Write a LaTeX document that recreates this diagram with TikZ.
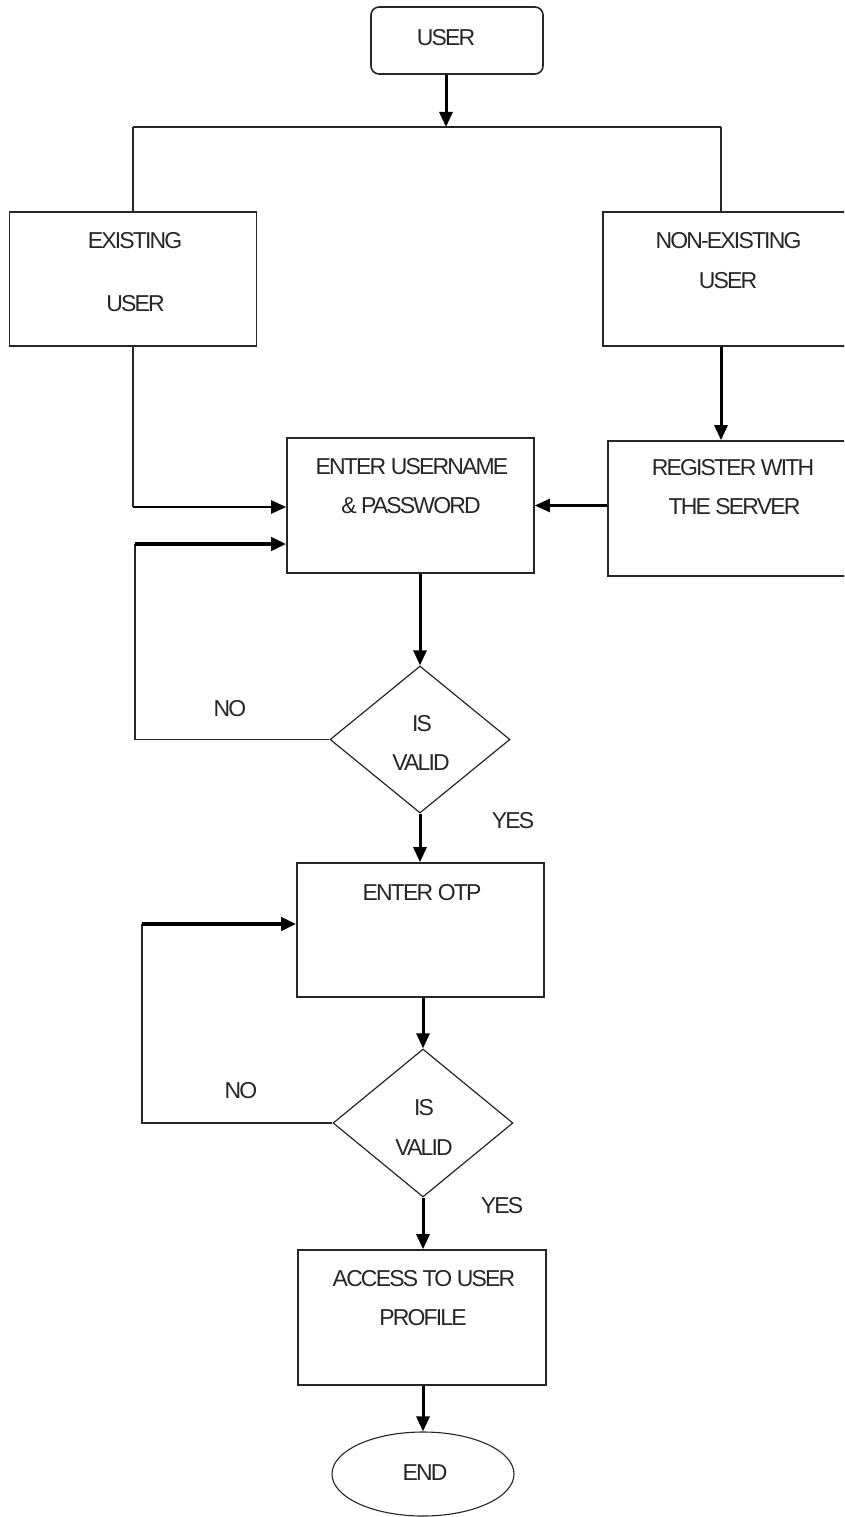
\documentclass[tikz,border=0pt]{standalone}
\usepackage{fontspec}
\setmainfont{Liberation Sans}[LetterSpace=-8]
\usetikzlibrary{arrows.meta,shapes.geometric}

\tikzset{
  box/.style={draw=black!85, line width=1.6pt, minimum width=247pt,
    minimum height=134pt, inner sep=0pt},
  startbox/.style={box, rounded corners=8pt, minimum width=172pt, minimum height=67pt},
  decision/.style={diamond, draw=black!85, line width=1.2pt, minimum width=180pt,
    minimum height=147pt, inner sep=0pt},
  terminal/.style={ellipse, draw=black!85, line width=1.1pt, minimum width=182pt,
    minimum height=84pt, inner sep=0pt},
  txt/.style={text=black!85, font=\fontsize{23}{26}\selectfont, text height=16.5pt,
    text depth=0pt, inner sep=0pt},
  thinline/.style={draw=black!85, line width=1.5pt},
  flow/.style={draw=black, line width=3pt, -{Triangle[length=15pt,width=13pt]}},
  flowmid/.style={flow, line width=2.4pt},
  flowheavy/.style={flow, line width=4pt},
}

\begin{document}
\begin{tikzpicture}[x=1pt, y=-1pt]
  \useasboundingbox (0,0) rectangle (844,1517);
  \clip (0,0) rectangle (844,1517);
  \fill[white] (0,0) rectangle (844,1517);

  % boxes
  \node[startbox] (user)     at (457,40.5)   {};
  \node[box]      (existing) at (133,279)    {};
  \node[box]      (nonex)    at (726.5,279)  {};
  \node[box, minimum height=135pt] (register) at (731.5,508.5) {};
  \node[box, minimum height=135pt] (enter)    at (410.5,505.5) {};
  \node[decision] (valid1)   at (420,739.5)  {};
  \node[box]      (otp)      at (420.5,930)  {};
  \node[decision, minimum height=148pt] (valid2) at (423,1123) {};
  \node[box, minimum width=248pt, minimum height=135pt] (access) at (422,1317.5) {};
  \node[terminal] (finish)   at (423,1474)   {};

  % texts
  \node[txt] (t-user)   at (446,37)    {USER};
  \node[txt] (t-ex1)    at (135,240)   {EXISTING};
  \node[txt] (t-ex2)    at (135.5,303) {USER};
  \node[txt] (t-ne1)    at (728.5,240) {NON-EXISTING};
  \node[txt] (t-ne2)    at (728,280)   {USER};
  \node[txt] (t-en1)    at (412,466)   {ENTER USERNAME};
  \node[txt] (t-en2)    at (411,505)   {\& PASSWORD};
  \node[txt] (t-rg1)    at (733,467.5) {REGISTER WITH};
  \node[txt] (t-rg2)    at (734.5,506) {THE SERVER};
  \node[txt] (t-is1)    at (422,723)   {IS};
  \node[txt] (t-va1)    at (421,762)   {VALID};
  \node[txt] (t-no1)    at (230,708)   {NO};
  \node[txt] (t-yes1)   at (513,820)   {YES};
  \node[txt] (t-otp)    at (422,892)   {ENTER OTP};
  \node[txt] (t-is2)    at (424,1107)  {IS};
  \node[txt] (t-va2)    at (424,1147)  {VALID};
  \node[txt] (t-no2)    at (241,1090)  {NO};
  \node[txt] (t-yes2)   at (502,1205)  {YES};
  \node[txt] (t-ac1)    at (424,1278)  {ACCESS TO USER};
  \node[txt] (t-ac2)    at (423,1317)  {PROFILE};
  \node[txt] (t-end)    at (425,1472)  {END};

  % junction points
  \coordinate (split) at (446,127);
  \coordinate (jl) at (133,127);
  \coordinate (jr) at (721,127);
  \coordinate (loop1) at (135,544);
  \coordinate (loop2) at (142,924);

  % user splits into the two branches
  \draw[flow] (split |- user.south) -- (split);
  \draw[thinline] (jl) -- (jr);
  \draw[thinline] (jl) -- (jl |- existing.north);
  \draw[thinline] (jr) -- (jr |- nonex.north);

  % branches to login
  \draw[flow] (jr |- nonex.south) -- (jr |- register.north);
  \draw[flowmid] (register.west |- enter.east) -- (enter.east);
  \draw[thinline] (jl |- existing.south) -- (133,507);
  \draw[flowmid] (133,507) -- (enter.west |- 0,507);

  % credential check
  \draw[flow] (valid1.north |- enter.south) -- (valid1.north);
  \draw[thinline] (valid1.west) -| (loop1);
  \draw[flowheavy] (loop1) -- (loop1 -| enter.west);
  \draw[flow] (valid1.south) -- (valid1.south |- otp.north);

  % OTP check
  \draw[flow] (valid2.north |- otp.south) -- (valid2.north);
  \draw[thinline] (valid2.west) -| (loop2);
  \draw[flowheavy] (loop2) -- (loop2 -| otp.west);
  \draw[flow] (valid2.south) -- (valid2.south |- access.north);

  % end
  \draw[flow] (finish.north |- access.south) -- (finish.north);
\end{tikzpicture}
\end{document}
